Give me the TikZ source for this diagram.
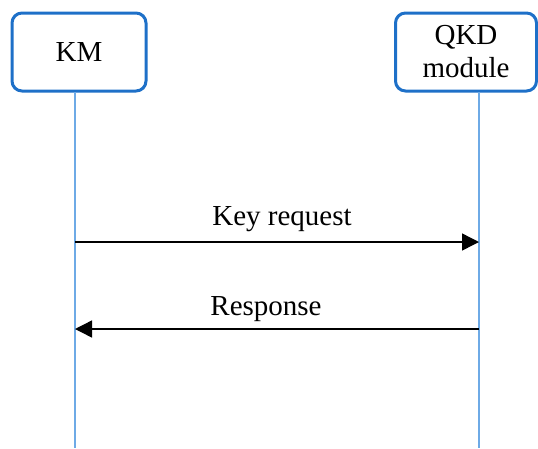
\documentclass[tikz,border=0pt]{standalone}
\usepackage{fontspec}
\setmainfont{Liberation Serif}
\usetikzlibrary{arrows.meta}
\definecolor{boxblue}{RGB}{30,112,200}
\definecolor{lineblue}{RGB}{110,170,230}
\begin{document}
\begin{tikzpicture}
	[x=1pt,y=-1pt,
	every node/.style={font=\fontsize{29}{33}\selectfont},
	party/.style={draw=boxblue,line width=3pt,rounded corners=10pt,minimum width=134pt,minimum height=78pt,align=center,inner sep=0pt},
	lifeline/.style={draw=lineblue,line width=1.5pt},
	msg/.style={draw=black,line width=1.4pt,-{Triangle[length=17pt,width=17pt]}}]
	\useasboundingbox (0,0) rectangle (538,448);
	\node [party] (km) at (79,52) {KM};
	\node [party,minimum width=141pt] (qkd) at (466,52) {QKD\\module};
	\coordinate (km-top) at (75,92);
	\coordinate (km-bot) at (75,448);
	\coordinate (qkd-top) at (479,92);
	\coordinate (qkd-bot) at (479,448);
	\draw [lifeline] (km-top) -- (km-bot);
	\draw [lifeline] (qkd-top) -- (qkd-bot);
	\coordinate (req-from) at (75,242);
	\coordinate (req-to) at (479,242);
	\coordinate (resp-from) at (479,329);
	\coordinate (resp-to) at (75,329);
	\draw [msg] (req-from) -- (req-to);
	\draw [msg] (resp-from) -- (resp-to);
	\node [anchor=base] (req) at (282,225) {Key request};
	\node [anchor=base] (resp) at (266,315) {Response};
\end{tikzpicture}
\end{document}
